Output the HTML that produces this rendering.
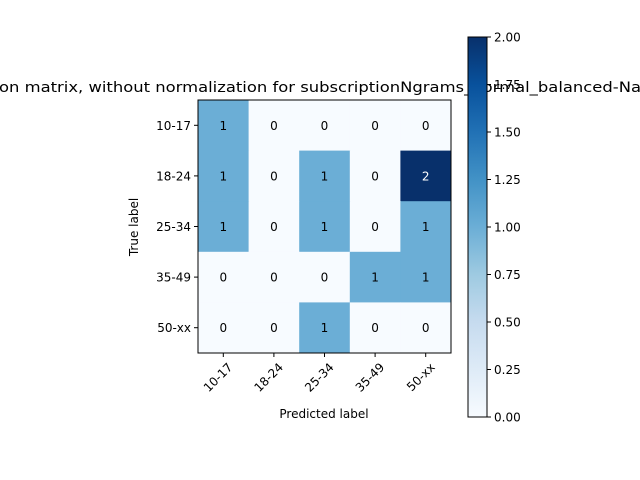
<!DOCTYPE html>
<html><head><meta charset="utf-8"><style>body{margin:0;background:#fff}svg{display:block;font-family:"DejaVu Sans","Liberation Sans",sans-serif}</style></head>
<body>
<svg id="c" width="640" height="480">
<text x="-1" y="92" font-size="14" textLength="642" lengthAdjust="spacingAndGlyphs">on matrix, without normalization for subscriptionNgrams_normal_balanced-Na</text>
<g id="cells"></g>
<rect x="198" y="100" width="253" height="253" fill="none" stroke="#000" stroke-width="1"/>
<g id="ticks" font-size="12"></g>
<text x="324" y="418" font-size="12" text-anchor="middle">Predicted label</text>
<text transform="translate(138,227) rotate(-90)" font-size="12" text-anchor="middle">True label</text>
<defs><linearGradient id="g" x1="0" y1="1" x2="0" y2="0">
<stop offset="0" stop-color="#f7fbff"/><stop offset="0.125" stop-color="#deebf7"/><stop offset="0.25" stop-color="#c6dbef"/><stop offset="0.375" stop-color="#9ecae1"/><stop offset="0.5" stop-color="#6baed6"/><stop offset="0.625" stop-color="#4292c6"/><stop offset="0.75" stop-color="#2171b5"/><stop offset="0.875" stop-color="#08519c"/><stop offset="1" stop-color="#08306b"/></linearGradient></defs>
<rect x="468" y="37" width="19" height="380" fill="url(#g)" stroke="#000" stroke-width="1"/>
<g id="cb" font-size="12"></g>
</svg>
<script>
const classes=["10-17","18-24","25-34","35-49","50-xx"];
const row0=[1,0,0,0,0];
const row1=[1,0,1,0,2];
const row2=[1,0,1,0,1];
const row3=[0,0,0,1,1];
const row4=[0,0,1,0,0];
const cbTicks=["0.00","0.25","0.50","0.75","1.00","1.25","1.50","1.75","2.00"];
const matrix=[row0,row1,row2,row3,row4];
const NS="http://www.w3.org/2000/svg";
const x0=198,y0=100,W=253,n=classes.length,cw=W/n,vmax=2;
const cx=i=>x0+i*cw, cy=j=>y0+j*cw;
const stops=[[247,251,255],[222,235,247],[198,219,239],[158,202,225],[107,174,214],[66,146,198],[33,113,181],[8,81,156],[8,48,107]];
function col(v){let t=Math.max(0,Math.min(1,v/vmax))*8;let i=Math.min(7,Math.floor(t)),f=t-i;const a=stops[i],b=stops[i+1];return`rgb(${a.map((c,k)=>Math.round(c+(b[k]-c)*f)).join(",")})`;}
function mk(tag,attrs,p){const e=document.createElementNS(NS,tag);for(const k in attrs)e.setAttribute(k,attrs[k]);p.appendChild(e);return e;}
const cells=document.getElementById("cells"),tk=document.getElementById("ticks");
matrix.forEach((r,j)=>r.forEach((v,i)=>{
const rc=mk("rect",{x:cx(i),y:cy(j),width:cw+0.5,height:cw+0.5,fill:col(v)},cells);


const t=mk("text",{x:cx(i)+cw/2,y:cy(j)+cw/2+4.5,"text-anchor":"middle","font-size":12,fill:v>vmax/2?"#fff":"#000"},cells);
t.textContent=v;


}));
classes.forEach((c,i)=>{
mk("line",{x1:x0,x2:x0-4,y1:cy(i)+cw/2,y2:cy(i)+cw/2,stroke:"#000"},tk);
const t=mk("text",{x:x0-7,y:cy(i)+cw/2+4.5,"text-anchor":"end"},tk);t.textContent=c;


const xx=cx(i)+cw/2;
mk("line",{x1:xx,x2:xx,y1:y0+W,y2:y0+W+4,stroke:"#000"},tk);
const u=mk("text",{transform:`translate(${xx+10},${y0+W+15}) rotate(-45)`,"text-anchor":"end"},tk);u.textContent=c;


});
const cb=document.getElementById("cb");
cbTicks.forEach(s=>{const v=parseFloat(s);const y=417-v/vmax*380;
mk("line",{x1:487,x2:491,y1:y,y2:y,stroke:"#000"},cb);
const t=mk("text",{x:494,y:y+4.5},cb);t.textContent=s;

});
</script>
</body></html>
